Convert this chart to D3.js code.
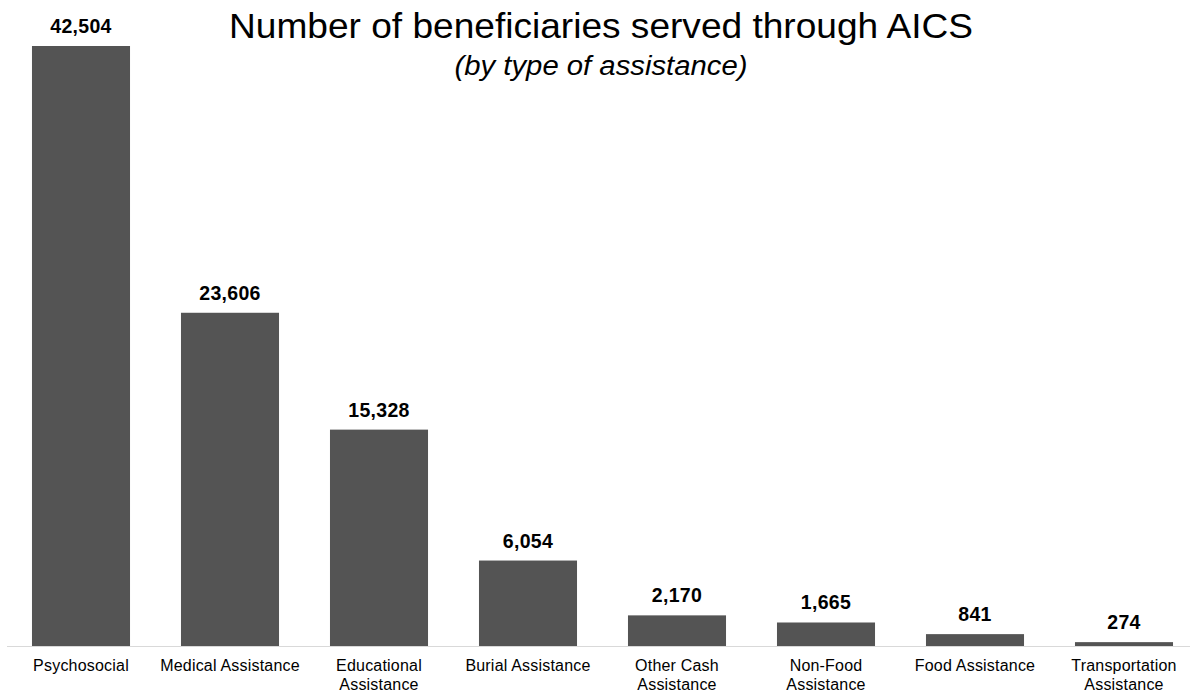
<!DOCTYPE html>
<html>
<head>
<meta charset="utf-8">
<script src="https://cdn.jsdelivr.net/npm/d3@7"></script>
<style>
  body { margin: 0; background: #fff; }
  text { font-family: "Liberation Sans", Arial, sans-serif; }
</style>
</head>
<body>
<svg id="graph" width="1196" height="693"></svg>
<script>
const categories = ["Psychosocial", "Medical Assistance", "Educational Assistance", "Burial Assistance",
  "Other Cash Assistance", "Non-Food Assistance", "Food Assistance", "Transportation Assistance"];
// how each category label breaks over lines
const labelLines = [["Psychosocial"], ["Medical Assistance"], ["Educational", "Assistance"], ["Burial Assistance"],
  ["Other Cash", "Assistance"], ["Non-Food", "Assistance"], ["Food Assistance"], ["Transportation", "Assistance"]];
const values = [42504, 23606, 15328, 6054, 2170, 1665, 841, 274];

const svg = d3.select("#graph");
const baseline = 646;

const x = d3.scaleBand()
    .domain(categories)
    .range([6.5, 1198.5])
    .paddingInner(0.342)
    .paddingOuter(0.171);

const y = d3.scaleLinear()
    .domain([0, 42504])
    .range([baseline, 46]);

// Title
svg.append("text")
    .attr("x", 601)
    .attr("y", 38)
    .attr("text-anchor", "middle")
    .attr("font-size", 35)
    .attr("textLength", 744)
    .attr("lengthAdjust", "spacingAndGlyphs")
    .attr("fill", "#000")
    .text("Number of beneficiaries served through AICS");

svg.append("text")
    .attr("x", 601)
    .attr("y", 75)
    .attr("text-anchor", "middle")
    .attr("font-size", 27)
    .attr("font-style", "italic")
    .attr("textLength", 293)
    .attr("lengthAdjust", "spacingAndGlyphs")
    .attr("fill", "#000")
    .text("(by type of assistance)");

// Bars
svg.selectAll(".bar")
    .data(values)
    .enter().append("rect")
        .attr("class", "bar")
        .attr("x", (d, i) => x(categories[i]))
        .attr("y", d => y(d))
        .attr("width", x.bandwidth())
        .attr("height", d => baseline - y(d))
        .attr("fill", "#545454");

// Value labels
svg.selectAll(".val")
    .data(values)
    .enter().append("text")
        .attr("class", "val")
        .attr("x", (d, i) => x(categories[i]) + x.bandwidth() / 2)
        .attr("y", d => y(d) - 13)
        .attr("text-anchor", "middle")
        .attr("font-size", 19.5)
        .attr("letter-spacing", 0.3)
        .attr("font-weight", "bold")
        .attr("fill", "#000")
        .text(d => d3.format(",")(d));

// Axis line
svg.append("line")
    .attr("x1", 7).attr("x2", 1190)
    .attr("y1", baseline + 0.5).attr("y2", baseline + 0.5)
    .attr("stroke", "#d9d9d9")
    .attr("stroke-width", 1);

// Category labels
const cat = svg.selectAll(".cat")
    .data(categories)
    .enter().append("text")
        .attr("class", "cat")
        .attr("x", d => x(d) + x.bandwidth() / 2)
        .attr("y", 671)
        .attr("text-anchor", "middle")
        .attr("font-size", 16)
        .attr("letter-spacing", 0.2)
        .attr("fill", "#000");

cat.each(function(d, i) {
    const t = d3.select(this);
    labelLines[i].forEach((line, j) => {
        t.append("tspan")
            .attr("x", x(d) + x.bandwidth() / 2)
            .attr("dy", j === 0 ? 0 : 18.5)
            .text(line);
    });
});
</script>
</body>
</html>
